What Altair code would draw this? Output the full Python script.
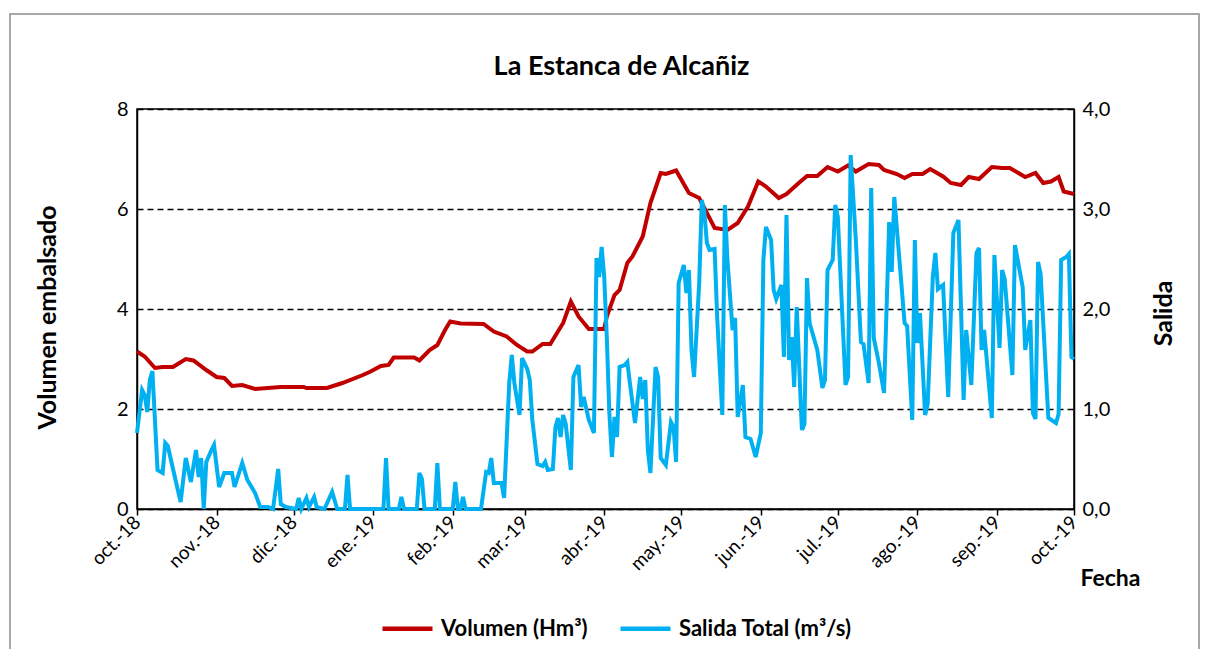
import altair as alt
import pandas as pd

# ---- data (day offsets from 2018-10-01) ----
inicio = "2018-10-01"

dias_vol = [0, 3, 7, 10, 14, 19, 22, 27, 31, 34, 37, 41, 46, 56, 65, 66, 74, 80, 88, 91,
            95, 98, 100, 108, 110, 114, 117, 120, 122, 126, 135, 139, 144, 148, 152, 154,
            158, 161, 166, 169, 172, 176, 182, 183, 186, 188, 191, 193, 197, 200, 204, 206,
            210, 215, 219, 222, 225, 230, 234, 238, 242, 245, 250, 253, 258, 261, 265, 269,
            273, 277, 280, 285, 289, 291, 296, 299, 302, 306, 309, 314, 317, 321, 324, 328,
            333, 337, 340, 346, 350, 353, 356, 359, 361, 365]
volumen = [3.15, 3.05, 2.82, 2.84, 2.84, 3.0, 2.97, 2.78, 2.64, 2.62, 2.46, 2.48, 2.40, 2.44,
           2.44, 2.42, 2.42, 2.52, 2.68, 2.75, 2.86, 2.88, 3.03, 3.03, 2.97, 3.18, 3.28, 3.58,
           3.75, 3.71, 3.70, 3.55, 3.45, 3.28, 3.15, 3.15, 3.3, 3.3, 3.72, 4.15, 3.85, 3.6,
           3.6, 3.85, 4.28, 4.38, 4.92, 5.05, 5.45, 6.12, 6.72, 6.70, 6.77, 6.32, 6.22, 5.92,
           5.62, 5.58, 5.72, 6.05, 6.55, 6.45, 6.22, 6.3, 6.53, 6.66, 6.66, 6.84, 6.75, 6.87,
           6.75, 6.9, 6.88, 6.78, 6.7, 6.62, 6.7, 6.7, 6.8, 6.65, 6.52, 6.48, 6.64, 6.6, 6.84,
           6.82, 6.82, 6.64, 6.72, 6.52, 6.55, 6.64, 6.35, 6.3]

dias_sal = [0, 2, 3, 4, 5, 6, 8, 10, 11, 12, 15, 17, 19, 21, 23, 24, 25, 26, 27, 29, 30, 32,
            34, 37, 38, 41, 43, 46, 48, 51, 53, 55, 56, 58, 62, 63, 64, 66, 67, 69, 70, 73,
            76, 78, 81, 82, 83, 96, 97, 98, 102, 103, 104, 109, 110, 111, 112, 116, 117, 118,
            123, 124, 125, 126, 127, 128, 134, 136, 137, 138, 139, 142, 143, 145, 146, 147,
            149, 150, 152, 153, 154, 156, 158, 159, 160, 162, 163, 164, 165, 166, 167, 169,
            170, 172, 173, 174, 176, 178, 179, 180, 181, 182, 183, 184, 185, 186, 187, 188,
            190, 191, 192, 194, 196, 197, 198, 199, 200, 202, 203, 204, 206, 208, 209, 210,
            211, 213, 214, 215, 216, 217, 219, 220, 221, 222, 223, 225, 226, 228, 229, 230,
            232, 233, 234, 236, 237, 239, 241, 243, 244, 245, 247, 248, 249, 251, 252, 253,
            254, 255, 256, 257, 259, 260, 261, 262, 265, 267, 268, 269, 271, 272, 273, 276,
            277, 278, 280, 282, 283, 285, 286, 287, 289, 291, 293, 294, 295, 297, 299, 300,
            302, 303, 304, 305, 307, 308, 310, 311, 312, 314, 316, 318, 320, 322, 323, 325,
            327, 328, 329, 330, 333, 334, 336, 337, 338, 341, 342, 345, 346, 348, 349, 350,
            351, 352, 355, 358, 359, 360, 362, 363, 364, 365]
salida = [0.76, 1.19, 1.14, 0.97, 1.29, 1.38, 0.39, 0.36, 0.66, 0.63, 0.29, 0.07, 0.51, 0.27,
          0.59, 0.32, 0.51, 0.0, 0.47, 0.59, 0.64, 0.22, 0.36, 0.36, 0.22, 0.46, 0.29, 0.16,
          0.02, 0.02, 0.0, 0.40, 0.05, 0.02, 0.0, 0.11, 0.0, 0.11, 0.02, 0.12, 0.02, 0.0,
          0.17, 0.0, 0.0, 0.34, 0.0, 0.0, 0.51, 0.0, 0.0, 0.12, 0.0, 0.0, 0.36, 0.30, 0.0,
          0.0, 0.46, 0.0, 0.0, 0.27, 0.0, 0.0, 0.12, 0.0, 0.0, 0.37, 0.36, 0.51, 0.26, 0.26,
          0.11, 1.26, 1.54, 1.26, 0.94, 1.51, 1.4, 1.29, 0.89, 0.45, 0.43, 0.47, 0.39, 0.40,
          0.82, 0.91, 0.72, 0.94, 0.85, 0.39, 1.32, 1.44, 1.02, 1.12, 0.89, 0.76, 2.51, 2.32,
          2.62, 2.32, 1.72, 0.96, 0.52, 0.92, 0.72, 1.42, 1.44, 1.47, 1.26, 0.86, 1.32, 1.1,
          1.29, 0.59, 0.36, 1.42, 1.32, 0.51, 0.44, 0.87, 0.82, 0.47, 2.26, 2.44, 2.16, 2.39,
          1.59, 1.32, 2.26, 3.09, 2.97, 2.66, 2.59, 2.6, 1.92, 0.94, 3.04, 2.49, 1.79, 1.91,
          0.92, 1.24, 0.72, 0.7, 0.52, 0.76, 2.49, 2.82, 2.69, 2.19, 2.1, 2.24, 1.52, 2.94,
          1.49, 1.72, 1.22, 2.02, 0.79, 0.85, 2.31, 1.86, 1.59, 1.21, 1.29, 2.39, 2.49, 3.04,
          2.92, 1.24, 1.32, 3.54, 2.7, 1.67, 1.65, 1.26, 3.21, 1.71, 1.46, 1.16, 2.87, 2.37,
          3.12, 2.49, 1.86, 1.83, 0.89, 2.69, 1.66, 1.96, 0.94, 1.05, 2.32, 2.56, 2.2, 2.24,
          1.12, 2.76, 2.89, 1.09, 1.79, 1.24, 2.56, 2.61, 1.59, 1.79, 0.91, 2.54, 1.61, 2.39,
          2.3, 1.34, 2.64, 2.22, 1.59, 1.89, 0.96, 0.9, 2.47, 2.35, 0.91, 0.86, 0.95, 2.49,
          2.52, 2.55, 1.52, 1.5]

series = ["Volumen (Hm³)", "Salida Total (m³/s)"]
colores = ["#C00000", "#00B0F0"]
meses = ["ene.", "feb.", "mar.", "abr.", "may.", "jun.", "jul.", "ago.", "sep.", "oct.", "nov.", "dic."]

base = pd.Timestamp(inicio)
df_vol = pd.DataFrame({"fecha": [base + pd.Timedelta(days=d) for d in dias_vol],
                       "valor": volumen, "serie": series[0]})
df_sal = pd.DataFrame({"fecha": [base + pd.Timedelta(days=d) for d in dias_sal],
                       "valor": salida, "serie": series[1]})

FONT = "Lato"

mes_vals = [alt.DateTime(year=2018 + (9 + i) // 12, month=(9 + i) % 12 + 1, date=1) for i in range(13)]
label_expr = ("[" + ",".join("'%s'" % m for m in meses) + "][month(datum.value)] + '-' + timeFormat(datum.value, '%y')")

x_enc = alt.X(
    "fecha:T",
    scale=alt.Scale(domain=[mes_vals[0], mes_vals[-1]]),
    axis=alt.Axis(values=mes_vals, labelExpr=label_expr, labelAngle=315, labelAlign="right",
                  labelBaseline="middle", labelPadding=4, labelFontSize=19, grid=False,
                  ticks=True, tickSize=6, tickColor="black", tickWidth=1.5,
                  title="Fecha", titleFontSize=23, titleFontWeight="bold",
                  titleX=973, titleY=69, titleAlign="center", titleBaseline="middle",
                  domainColor="black", domainWidth=1.5, labelColor="black", titleColor="black"),
)

color_enc = alt.Color(
    "serie:N",
    scale=alt.Scale(domain=series, range=colores),
    legend=alt.Legend(title=None, orient="none", legendX=243, legendY=492, direction="horizontal",
                      symbolType="stroke", symbolSize=2500, symbolStrokeWidth=4.5,
                      labelFontSize=22, labelFontWeight="bold", labelColor="black",
                      labelOffset=6, columnPadding=23, labelLimit=400),
)

linea_vol = alt.Chart(df_vol).mark_line(strokeWidth=4).encode(
    x=x_enc,
    y=alt.Y("valor:Q", scale=alt.Scale(domain=[0, 8]),
            axis=alt.Axis(values=[0, 2, 4, 6, 8], grid=True, gridDash=[6, 4], gridColor="black",
                          gridWidth=1.5, ticks=False, labelFontSize=20, labelPadding=9,
                          domainColor="black", domainWidth=1.5, labelColor="black",
                          title="Volumen embalsado", titleFontSize=25, titleFontWeight="bold",
                          titleColor="black", titleAngle=270, titleX=-90, titleY=208,
                          titleAlign="center", titleBaseline="middle")),
    color=color_enc,
)

linea_sal = alt.Chart(df_sal).mark_line(strokeWidth=4).encode(
    x=x_enc,
    y=alt.Y("valor:Q", scale=alt.Scale(domain=[0, 4]),
            axis=alt.Axis(orient="right", values=[0, 1, 2, 3, 4], grid=False, ticks=False,
                          labelExpr="replace(format(datum.value, '.1f'), '.', ',')",
                          labelFontSize=20, labelPadding=8, domainColor="black", domainWidth=1.5,
                          labelColor="black", title="Salida", titleFontSize=25,
                          titleFontWeight="bold", titleColor="black", titleAngle=270,
                          titleX=89, titleY=204, titleAlign="center", titleBaseline="middle")),
    color=color_enc,
)

marco = alt.Chart(pd.DataFrame({"k": [0]})).mark_rect(
    fill="transparent", stroke="#8c8c8c", strokeWidth=1.5
).encode(x=alt.value(-127), x2=alt.value(1062), y=alt.value(-95), y2=alt.value(560))

chart = alt.layer(marco, linea_vol, linea_sal).resolve_scale(y="independent").properties(
    width=937,
    height=400,
    autosize=alt.AutoSizeParams(type="none"),
    padding={"left": 129, "top": 101, "right": 126, "bottom": 140},
    title=alt.Title("La Estanca de Alcañiz", fontSize=27, fontWeight="bold", color="black",
                    anchor="middle", offset=-68, dx=16, font=FONT),
).configure(font=FONT).configure_view(stroke="black", strokeWidth=1.5)

chart.save("out.html", embed_options={"renderer": "svg", "actions": False})
